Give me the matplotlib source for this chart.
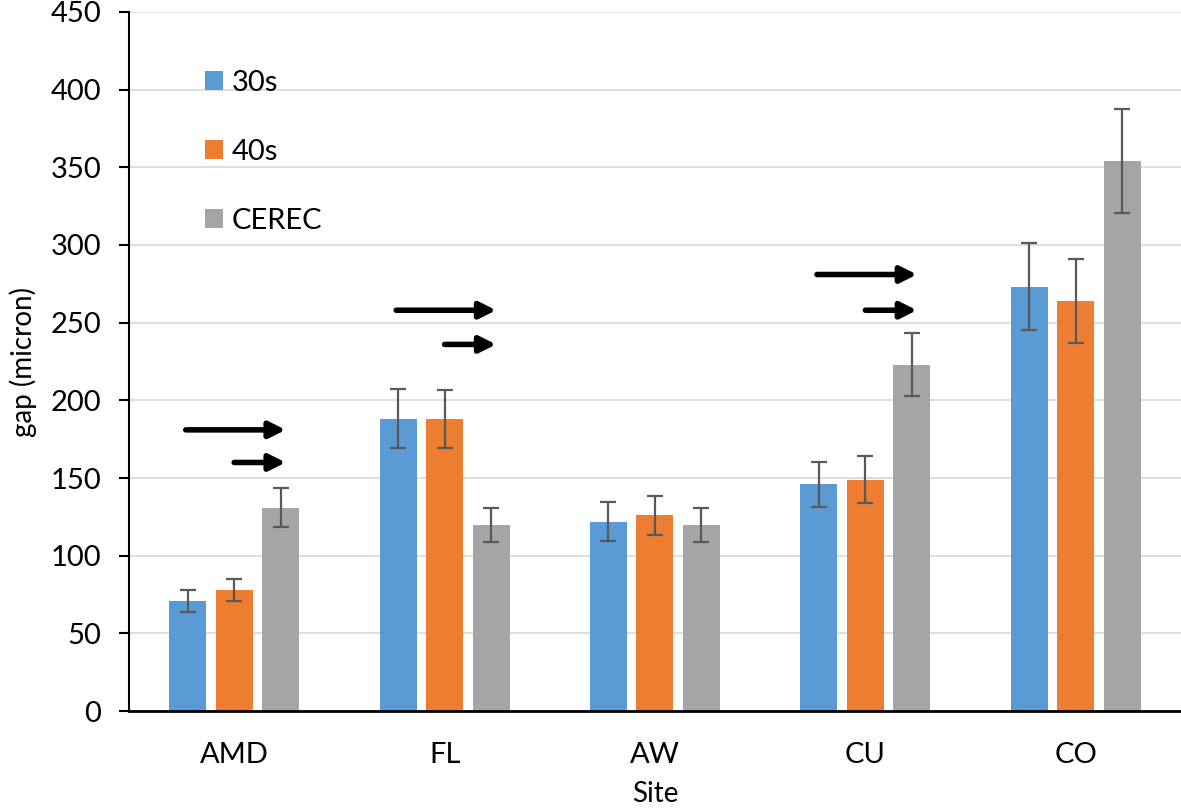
import numpy as np
import matplotlib
matplotlib.use('Agg')
import matplotlib.pyplot as plt

plt.rcParams['font.family'] = ['Lato', 'DejaVu Sans']

# Данные
sites = ['AMD', 'FL', 'AW', 'CU', 'CO']
series = ['30s', '40s', 'CEREC']
gap_30s = [71, 188, 122, 146, 273]
gap_40s = [78, 188, 126, 149, 264]
gap_cerec = [131, 120, 120, 223, 354]
err_30s = [7, 19, 12.5, 14.5, 28]
err_40s = [7, 18.5, 12.5, 15, 27]
err_cerec = [12.5, 11, 11, 20.5, 33.5]

# Стрелки: номер категории, уровень длинной и короткой стрелки
arrow_sites = [0, 1, 3]
arrow_long_y = [181, 258, 281]
arrow_short_y = [160, 236, 258]

colors = ['#5B9BD5', '#ED7D31', '#A5A5A5']
values = [gap_30s, gap_40s, gap_cerec]
errors = [err_30s, err_40s, err_cerec]

fig = plt.figure(figsize=(11.81, 8.10), dpi=100)
ax = fig.add_axes([0.1092, 0.1222, 0.8908, 0.863])

x = np.arange(len(sites))
step = 0.221
width = 0.176
for k in range(3):
    ax.bar(x + (k - 1) * step, values[k], width, color=colors[k], label=series[k],
           zorder=2)
    ax.errorbar(x + (k - 1) * step, values[k], yerr=errors[k], fmt='none',
                ecolor='#595959', elinewidth=1.6, capsize=5.5, capthick=1.6, zorder=3)

# Стрелки
for i, yl, ys in zip(arrow_sites, arrow_long_y, arrow_short_y):
    for x0, y in [(i - 0.23, yl), (i, ys)]:
        ax.annotate('', xy=(i + 0.245, y), xytext=(x0, y),
                    arrowprops=dict(arrowstyle='-|>', lw=4, color='black',
                                    mutation_scale=24, shrinkA=0, shrinkB=0),
                    zorder=4)

ax.set_xlim(-0.5, 4.5)
ax.set_ylim(0, 450)
ax.set_yticks(np.arange(0, 451, 50))
ax.set_xticks(x)
ax.set_xticklabels(sites)
ax.tick_params(axis='x', length=0, pad=22, labelsize=21)
ax.tick_params(axis='y', length=7, width=1.5, pad=13, labelsize=21)
ax.grid(axis='y', color='#D9D9D9', lw=1.2, zorder=0)
ax.set_axisbelow(True)
for s in ['top', 'right']:
    ax.spines[s].set_visible(False)
ax.spines['left'].set_linewidth(1.5)
ax.spines['bottom'].set_linewidth(2)

ax.set_xlabel('Site', fontsize=20, labelpad=10)
ax.set_ylabel('gap (micron)', fontsize=20, labelpad=10)

ax.legend(loc='upper left', bbox_to_anchor=(0.072, 0.917), frameon=False,
          fontsize=21, handlelength=0.62, handleheight=0.62, handletextpad=0.3,
          labelspacing=1.47, borderpad=0, borderaxespad=0)

plt.savefig('out.png', dpi=100)
